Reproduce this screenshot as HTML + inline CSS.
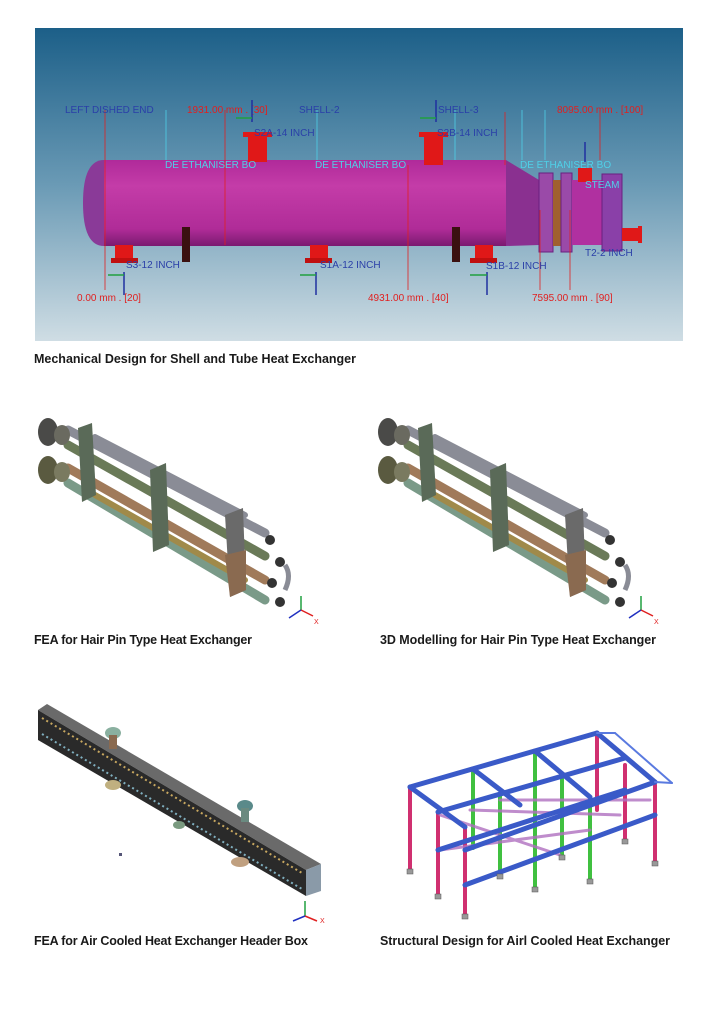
<!DOCTYPE html>
<html><head><meta charset="utf-8"><style>
html,body{margin:0;padding:0;background:#fff;}
svg{display:block;}
.cap{font-family:"Liberation Sans",sans-serif;font-size:12.5px;font-weight:bold;fill:#1a1a1a;}
.lb{font-family:"Liberation Sans",sans-serif;font-size:10px;fill:#2a3fa8;}
.lr{font-family:"Liberation Sans",sans-serif;font-size:10px;fill:#e02020;}
.lc{font-family:"Liberation Sans",sans-serif;font-size:10px;fill:#4fd0e8;}
</style></head><body>
<svg width="721" height="1024" viewBox="0 0 721 1024" xmlns="http://www.w3.org/2000/svg">
<defs>
<linearGradient id="bg" x1="0" y1="0" x2="0" y2="1">
<stop offset="0" stop-color="#1c5f88"/><stop offset="0.5" stop-color="#6a9ab5"/><stop offset="1" stop-color="#cfdde4"/></linearGradient>
<linearGradient id="mag" x1="0" y1="0" x2="0" y2="1">
<stop offset="0" stop-color="#b02a9a"/><stop offset="0.3" stop-color="#c43ca8"/><stop offset="0.8" stop-color="#b02c98"/><stop offset="1" stop-color="#7a1a70"/></linearGradient>
</defs>
<!-- top image -->
<rect x="35" y="28" width="648" height="313" fill="url(#bg)"/>
<path d="M104 160 Q83 160 83 203 Q83 246 104 246 Z" fill="#8a3a98"/>
<rect x="104" y="160" width="402" height="86" fill="url(#mag)"/>
<polygon points="506,160 539,180 539,245 506,246" fill="#8a3090"/>
<rect x="539" y="173" width="14" height="79" fill="#9a4aa8" stroke="#6a2080" stroke-width="1"/>
<rect x="553" y="180" width="8" height="66" fill="#a06030"/>
<rect x="561" y="173" width="11" height="79" fill="#9a4aa8" stroke="#6a2080"/>
<rect x="572" y="180" width="30" height="65" fill="#b030a0"/>
<rect x="602" y="174" width="20" height="77" fill="#8a40a8" stroke="#6a2080"/>
<rect x="622" y="228" width="18" height="13" fill="#e01818"/><rect x="638" y="226" width="4" height="17" fill="#e01818"/>
<!-- nozzles -->
<rect x="243" y="132" width="29" height="5" fill="#e01818"/><rect x="248" y="137" width="19" height="25" fill="#e01818"/>
<rect x="419" y="132" width="29" height="5" fill="#e01818"/><rect x="424" y="137" width="19" height="28" fill="#e01818"/>
<rect x="578" y="168" width="14" height="14" fill="#e01818"/>
<rect x="115" y="245" width="18" height="18" fill="#e01818"/><rect x="111" y="258" width="27" height="5" fill="#c01010"/>
<rect x="310" y="245" width="18" height="18" fill="#e01818"/><rect x="305" y="258" width="27" height="5" fill="#c01010"/>
<rect x="475" y="245" width="18" height="18" fill="#e01818"/><rect x="470" y="258" width="27" height="5" fill="#c01010"/>
<rect x="182" y="227" width="8" height="35" fill="#3a1010"/>
<rect x="452" y="227" width="8" height="35" fill="#3a1010"/>
<!-- leader lines -->
<g stroke-width="0.8">
<line x1="105" y1="110" x2="105" y2="290" stroke="#e02020"/>
<line x1="225" y1="110" x2="225" y2="245" stroke="#e02020"/>
<line x1="408" y1="165" x2="408" y2="290" stroke="#e02020"/>
<line x1="505" y1="112" x2="505" y2="165" stroke="#e02020"/>
<line x1="540" y1="210" x2="540" y2="290" stroke="#e02020"/>
<line x1="570" y1="210" x2="570" y2="290" stroke="#e02020"/>
<line x1="600" y1="110" x2="600" y2="160" stroke="#e02020"/>
<line x1="166" y1="110" x2="166" y2="160" stroke="#4fd0e8"/>
<line x1="317" y1="110" x2="317" y2="160" stroke="#4fd0e8"/>
<line x1="455" y1="110" x2="455" y2="160" stroke="#4fd0e8"/>
<line x1="522" y1="110" x2="522" y2="160" stroke="#4fd0e8"/>
<line x1="545" y1="110" x2="545" y2="160" stroke="#4fd0e8"/>
</g>
<text class="lb" x="65" y="113">LEFT DISHED END</text>
<text class="lr" x="187" y="113">1931.00 mm . [30]</text>
<text class="lb" x="299" y="113">SHELL-2</text>
<text class="lb" x="438" y="113">SHELL-3</text>
<text class="lr" x="557" y="113">8095.00 mm . [100]</text>
<text class="lb" x="254" y="136">S2A-14 INCH</text>
<text class="lb" x="437" y="136">S2B-14 INCH</text>
<text class="lc" x="165" y="168">DE ETHANISER BO</text>
<text class="lc" x="315" y="168">DE ETHANISER BO</text>
<text class="lc" x="520" y="168">DE ETHANISER BO</text>
<text class="lc" x="585" y="188">STEAM</text>
<text class="lb" x="585" y="256">T2-2 INCH</text>
<text class="lb" x="126" y="268">S3-12 INCH</text>
<text class="lb" x="320" y="268">S1A-12 INCH</text>
<text class="lb" x="486" y="269">S1B-12 INCH</text>
<text class="lr" x="77" y="301">0.00 mm . [20]</text>
<text class="lr" x="368" y="301">4931.00 mm . [40]</text>
<text class="lr" x="532" y="301">7595.00 mm . [90]</text>
<g stroke="#2030a0" stroke-width="1.5"><line x1="252" y1="100" x2="252" y2="122"/><line x1="436" y1="100" x2="436" y2="122"/><line x1="585" y1="142" x2="585" y2="162"/>
<line x1="124" y1="272" x2="124" y2="295"/><line x1="316" y1="272" x2="316" y2="295"/><line x1="487" y1="272" x2="487" y2="295"/></g>
<g stroke="#20a040" stroke-width="1.5"><line x1="236" y1="118" x2="252" y2="118"/><line x1="420" y1="118" x2="436" y2="118"/><line x1="108" y1="275" x2="124" y2="275"/><line x1="300" y1="275" x2="316" y2="275"/><line x1="470" y1="275" x2="487" y2="275"/></g>
<text class="cap" x="34" y="363" textLength="322">Mechanical Design for Shell and Tube Heat Exchanger</text>

<!-- hairpin images -->
<g id="hp">
<g stroke-linecap="round" stroke-width="9">
<line x1="68" y1="430" x2="265" y2="533" stroke="#8a8c96"/>
<line x1="68" y1="445" x2="265" y2="556" stroke="#6a7a58"/>
<line x1="68" y1="468" x2="265" y2="580" stroke="#a07a5a"/>
<line x1="68" y1="483" x2="265" y2="600" stroke="#7a9a88"/>
<line x1="95" y1="437" x2="245" y2="515" stroke="#8a8c96" stroke-width="6"/>
<line x1="95" y1="495" x2="245" y2="580" stroke="#a08a4a" stroke-width="6"/>
</g>
<ellipse cx="48" cy="432" rx="10" ry="14" fill="#4a4a48"/>
<ellipse cx="48" cy="470" rx="10" ry="14" fill="#5a5a40"/>
<ellipse cx="62" cy="435" rx="8" ry="10" fill="#6a6a60"/>
<ellipse cx="62" cy="472" rx="8" ry="10" fill="#7a7a60"/>
<polygon points="78,428 92,423 96,495 82,502" fill="#5a6a58"/>
<polygon points="150,470 166,463 169,545 153,552" fill="#5a6a58"/>
<polygon points="225,515 243,508 246,590 230,597" fill="#6a6a6a"/>
<polygon points="225,555 246,550 246,590 230,597" fill="#8a6a50"/>
<circle cx="270" cy="540" r="5" fill="#333"/><circle cx="280" cy="562" r="5" fill="#333"/>
<circle cx="272" cy="583" r="5" fill="#333"/><circle cx="280" cy="602" r="5" fill="#333"/>
<path d="M285 565 Q292 575 285 590" stroke="#8a8c96" stroke-width="5" fill="none"/>
<g stroke-width="1.5"><line x1="301" y1="610" x2="301" y2="596" stroke="#20a040"/><line x1="301" y1="610" x2="313" y2="616" stroke="#e02020"/><line x1="301" y1="610" x2="289" y2="618" stroke="#2030c0"/></g>
<text x="314" y="624" font-family="Liberation Sans" font-size="7" fill="#e02020">X</text>
</g>
<use href="#hp" x="340"/>
<text class="cap" x="34" y="644" textLength="218">FEA for Hair Pin Type Heat Exchanger</text>
<text class="cap" x="380" y="644" textLength="276">3D Modelling for Hair Pin Type Heat Exchanger</text>

<!-- header box -->
<polygon points="38,710 47,704 321,864 306,870" fill="#6a6a6a"/>
<polygon points="38,710 306,870 306,896 38,740" fill="#2a2a2a"/>
<polygon points="306,870 321,864 321,891 306,896" fill="#8a9aa8"/>
<line x1="42" y1="718" x2="302" y2="873" stroke="#c8a860" stroke-width="2" stroke-dasharray="2 3"/>
<line x1="42" y1="734" x2="302" y2="889" stroke="#80b0c0" stroke-width="2" stroke-dasharray="2 3"/>
<ellipse cx="113" cy="733" rx="8" ry="6" fill="#8ab0a0"/><rect x="109" y="735" width="8" height="14" fill="#8a6a50"/>
<ellipse cx="113" cy="785" rx="8" ry="5" fill="#c0b080"/>
<ellipse cx="245" cy="806" rx="8" ry="6" fill="#5a8a8a"/><rect x="241" y="808" width="8" height="14" fill="#6a8a80"/>
<ellipse cx="179" cy="825" rx="6" ry="4" fill="#7a9a80"/>
<ellipse cx="240" cy="862" rx="9" ry="5" fill="#c0a080"/>
<rect x="119" y="853" width="3" height="3" fill="#557"/>
<g stroke-width="1.5"><line x1="305" y1="916" x2="305" y2="901" stroke="#20a040"/><line x1="305" y1="916" x2="317" y2="921" stroke="#e02020"/><line x1="305" y1="916" x2="293" y2="921" stroke="#2030c0"/></g>
<text x="320" y="923" font-family="Liberation Sans" font-size="7" fill="#e02020">X</text>
<text class="cap" x="34" y="945" textLength="274">FEA for Air Cooled Heat Exchanger Header Box</text>

<!-- structure -->
<g stroke-linecap="round">
<g stroke="#d03070" stroke-width="4">
<line x1="410" y1="787" x2="410" y2="870"/><line x1="438" y1="812" x2="438" y2="895"/><line x1="465" y1="827" x2="465" y2="915"/>
<line x1="597" y1="733" x2="597" y2="810"/><line x1="625" y1="765" x2="625" y2="840"/><line x1="655" y1="785" x2="655" y2="862"/>
</g>
<g stroke="#40c040" stroke-width="4"><line x1="473" y1="769" x2="473" y2="848"/><line x1="535" y1="751" x2="535" y2="888"/><line x1="590" y1="797" x2="590" y2="880"/><line x1="500" y1="795" x2="500" y2="875"/><line x1="562" y1="778" x2="562" y2="856"/></g>
<g stroke="#b070c0" stroke-width="3" opacity="0.8"><line x1="440" y1="815" x2="560" y2="855"/><line x1="470" y1="810" x2="620" y2="815"/><line x1="500" y1="800" x2="650" y2="800"/><line x1="440" y1="850" x2="590" y2="830"/></g>
<g stroke="#3a5ac8" stroke-width="5">
<line x1="410" y1="787" x2="597" y2="733"/><line x1="438" y1="812" x2="625" y2="758"/><line x1="465" y1="850" x2="655" y2="782"/>
<line x1="410" y1="787" x2="465" y2="827"/><line x1="473" y1="769" x2="520" y2="805"/><line x1="535" y1="751" x2="590" y2="797"/><line x1="597" y1="733" x2="655" y2="782"/>
<line x1="438" y1="850" x2="625" y2="790"/><line x1="465" y1="885" x2="655" y2="815"/>
</g>
<g stroke="#5a7ae0" stroke-width="2"><line x1="597" y1="733" x2="615" y2="733"/><line x1="615" y1="733" x2="672" y2="783"/><line x1="672" y1="783" x2="655" y2="782"/></g>
</g>
<g fill="#999" stroke="#555" stroke-width="0.5">
<rect x="407" y="869" width="6" height="5"/><rect x="435" y="894" width="6" height="5"/><rect x="462" y="914" width="6" height="5"/>
<rect x="497" y="874" width="6" height="5"/><rect x="532" y="887" width="6" height="5"/><rect x="559" y="855" width="6" height="5"/>
<rect x="587" y="879" width="6" height="5"/><rect x="622" y="839" width="6" height="5"/><rect x="652" y="861" width="6" height="5"/>
</g>
<text class="cap" x="380" y="945" textLength="290">Structural Design for Airl Cooled Heat Exchanger</text>
</svg>
</body></html>
